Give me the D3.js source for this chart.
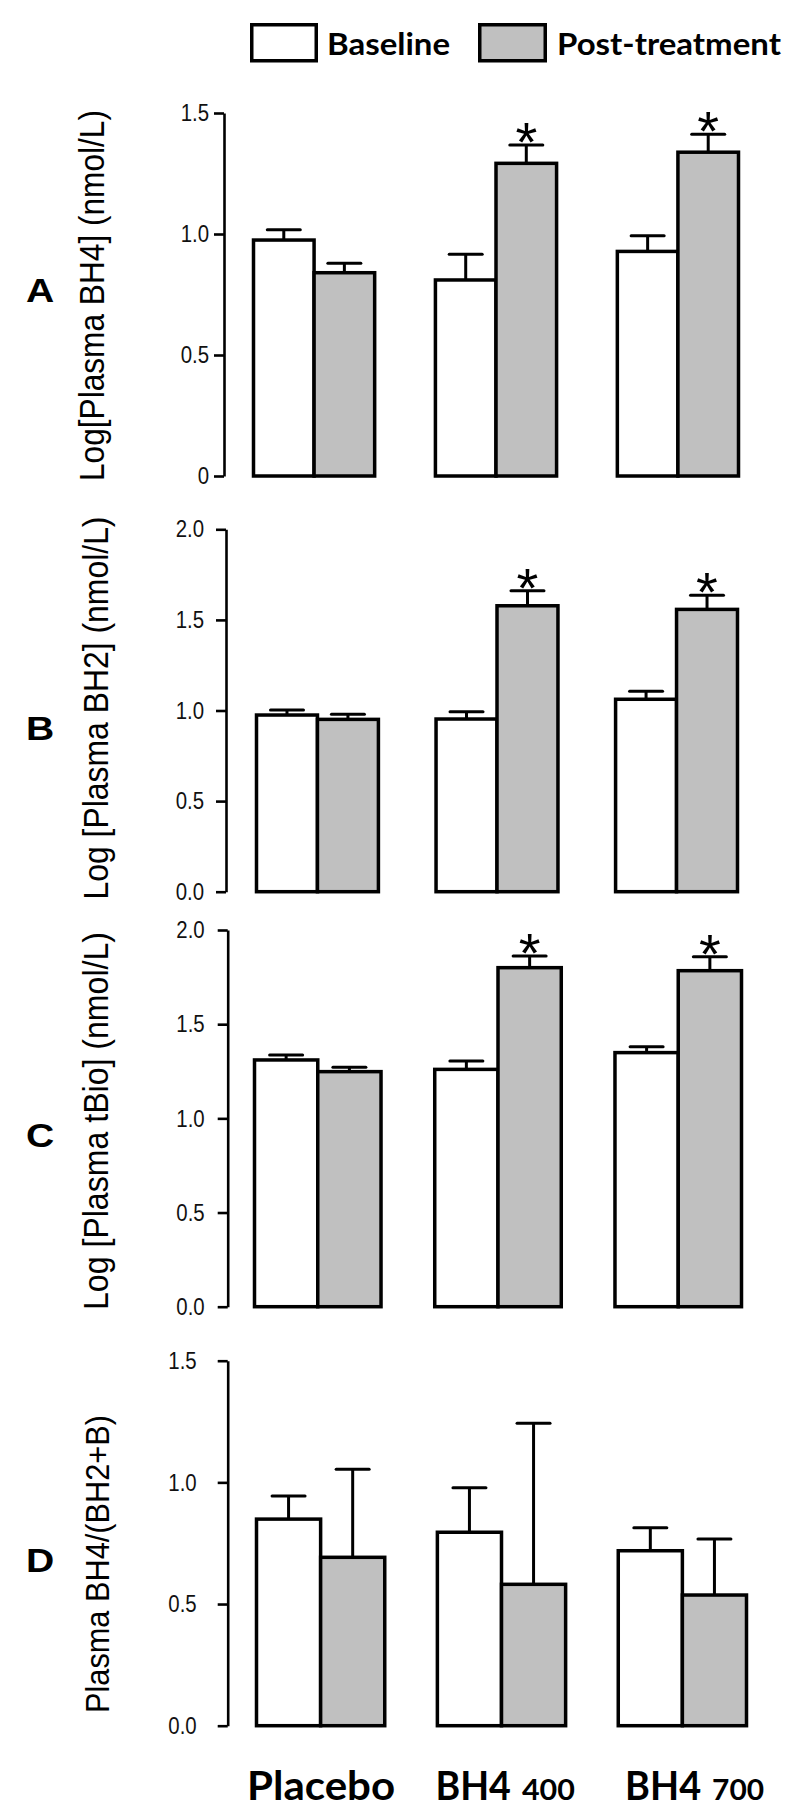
<!DOCTYPE html>
<html><head><meta charset="utf-8">
<script src="https://cdn.jsdelivr.net/npm/d3@7"></script>
<style>body{margin:0;background:#fff}</style>
</head><body>
<script>
// ---------- DATA ----------
const categories = ["Placebo", "BH4 400", "BH4 700"];
const seriesNames = ["Baseline", "Post-treatment"];
const panelLetters = ["A", "B", "C", "D"];
const yAxisTitles = ["Log[Plasma BH4] (nmol/L)", "Log [Plasma BH2] (nmol/L)", "Log [Plasma tBio] (nmol/L)", "Plasma BH4/(BH2+B)"];
const yMaxValues = [1.5, 2.0, 2.0, 1.5];

const ticksA = [0, 0.5, 1.0, 1.5];
const tickLabelsA = ["0", "0.5", "1.0", "1.5"];
const ticksB = [0, 0.5, 1.0, 1.5, 2.0];
const tickLabelsB = ["0.0", "0.5", "1.0", "1.5", "2.0"];
const ticksC = [0, 0.5, 1.0, 1.5, 2.0];
const tickLabelsC = ["0.0", "0.5", "1.0", "1.5", "2.0"];
const ticksD = [0, 0.5, 1.0, 1.5];
const tickLabelsD = ["0.0", "0.5", "1.0", "1.5"];

const baselineA = [0.975, 0.810, 0.928];
const baselineSemA = [0.043, 0.106, 0.065];
const postA = [0.840, 1.292, 1.338];
const postSemA = [0.039, 0.076, 0.074];
const sigA = [false, true, true];

const baselineB = [0.975, 0.953, 1.062];
const baselineSemB = [0.028, 0.040, 0.044];
const postB = [0.951, 1.578, 1.558];
const postSemB = [0.028, 0.083, 0.078];
const sigB = [false, true, true];

const baselineC = [1.310, 1.260, 1.349];
const baselineSemC = [0.027, 0.045, 0.031];
const postC = [1.248, 1.800, 1.784];
const postSemC = [0.023, 0.062, 0.074];
const sigC = [false, true, true];

const baselineD = [0.849, 0.795, 0.719];
const baselineSemD = [0.095, 0.183, 0.095];
const postD = [0.692, 0.581, 0.537];
const postSemD = [0.362, 0.662, 0.230];
const sigD = [false, false, false];

// ---------- LAYOUT ----------
const panels = [
  {ticks: ticksA, labels: tickLabelsA, base: baselineA, baseSem: baselineSemA, post: postA, postSem: postSemA, sig: sigA},
  {ticks: ticksB, labels: tickLabelsB, base: baselineB, baseSem: baselineSemB, post: postB, postSem: postSemB, sig: sigB},
  {ticks: ticksC, labels: tickLabelsC, base: baselineC, baseSem: baselineSemC, post: postC, postSem: postSemC, sig: sigC},
  {ticks: ticksD, labels: tickLabelsD, base: baselineD, baseSem: baselineSemD, post: postD, postSem: postSemD, sig: sigD}
];
const layout = [
  {axisX: 224,   y0: 476,    yTop: 113,    x0: 253.5, x1: 738.5, pad: 0.334, tickPad: 5,  titleX: 104, titleY: 295.5, titleLen: 371, titleSize: 35, letterY: 302},
  {axisX: 226,   y0: 891.7,  yTop: 529.3,  x0: 256.5, x1: 737.5, pad: 0.321, tickPad: 12, titleX: 108, titleY: 708,   titleLen: 383, titleSize: 35, letterY: 740},
  {axisX: 227.7, y0: 1306.7, yTop: 930,    x0: 254.5, x1: 741.5, pad: 0.298, tickPad: 13, titleX: 108, titleY: 1121,  titleLen: 378, titleSize: 35, letterY: 1147},
  {axisX: 227.7, y0: 1725.7, yTop: 1360.7, x0: 256.5, x1: 746.5, pad: 0.291, tickPad: 21, titleX: 109, titleY: 1564,  titleLen: 298, titleSize: 34, letterY: 1572}
];
const fills = {"Baseline": "#ffffff", "Post-treatment": "#c0c0c0"};
const TICK_SX = 0.85;

const svg = d3.select("body").append("svg")
  .attr("width", 800).attr("height", 1817)
  .style("display", "block");

let lastX = null;
panels.forEach((P, pi) => {
  const L = layout[pi];
  const g = svg.append("g");
  const y = d3.scaleLinear().domain([0, yMaxValues[pi]]).range([L.y0, L.yTop]);
  const x = d3.scaleBand().domain(categories).range([L.x0, L.x1]).paddingInner(L.pad).paddingOuter(0);
  const xs = d3.scaleBand().domain(seriesNames).range([0, x.bandwidth()]).padding(0);
  if (pi === panels.length - 1) lastX = x;

  // axis
  const ax = g.append("g")
    .attr("transform", `translate(${L.axisX},0)`)
    .call(d3.axisLeft(y).tickValues(P.ticks).tickFormat((d, i) => P.labels[i])
      .tickSize(10).tickSizeOuter(0).tickPadding(L.tickPad))
    .attr("color", "#000")
    .attr("font-family", "'Liberation Sans', Arial, sans-serif")
    .attr("font-size", 24);
  ax.select(".domain").attr("stroke-width", 2.6);
  ax.selectAll(".tick line").attr("stroke-width", 2.6);
  ax.selectAll(".tick text")
    .attr("x", -(10 + L.tickPad) / TICK_SX)
    .attr("transform", `scale(${TICK_SX},1)`)
    .attr("fill", "#111");

  // bars
  const rows = [];
  categories.forEach((c, i) => {
    rows.push({cat: c, s: "Baseline", v: P.base[i], e: P.baseSem[i], sig: false});
    rows.push({cat: c, s: "Post-treatment", v: P.post[i], e: P.postSem[i], sig: P.sig[i]});
  });
  g.selectAll("rect.bar").data(rows).enter().append("rect")
    .attr("class", "bar")
    .attr("x", d => x(d.cat) + xs(d.s))
    .attr("y", d => y(d.v))
    .attr("width", xs.bandwidth())
    .attr("height", d => y(0) - y(d.v))
    .attr("fill", d => fills[d.s])
    .attr("stroke", "#000")
    .attr("stroke-width", 3.5);

  // error bars (upper only)
  const eb = g.selectAll("g.err").data(rows).enter().append("g").attr("class", "err");
  const cx = d => x(d.cat) + xs(d.s) + xs.bandwidth() / 2;
  eb.append("line")
    .attr("x1", cx).attr("x2", cx)
    .attr("y1", d => y(d.v)).attr("y2", d => y(d.v + d.e))
    .attr("stroke", "#000").attr("stroke-width", 3);
  eb.append("line")
    .attr("x1", d => cx(d) - 16.5).attr("x2", d => cx(d) + 16.5)
    .attr("y1", d => y(d.v + d.e)).attr("y2", d => y(d.v + d.e))
    .attr("stroke", "#000").attr("stroke-width", 3).attr("stroke-linecap", "round");

  // significance asterisks
  g.selectAll("text.sig").data(rows.filter(d => d.sig)).enter().append("text")
    .attr("class", "sig")
    .attr("x", cx)
    .attr("y", d => y(d.v + d.e) - 16 + 0.57 * 56)
    .attr("text-anchor", "middle")
    .attr("font-family", "'Liberation Sans', Arial, sans-serif")
    .attr("font-size", 56)
    .attr("fill", "#000")
    .text("*");

  // y-axis title
  g.append("text")
    .attr("transform", `translate(${L.titleX},${L.titleY}) rotate(-90)`)
    .attr("text-anchor", "middle")
    .attr("font-family", "'Liberation Sans', Arial, sans-serif")
    .attr("font-size", L.titleSize)
    .attr("textLength", L.titleLen)
    .attr("lengthAdjust", "spacingAndGlyphs")
    .attr("fill", "#000")
    .text(yAxisTitles[pi]);

  // panel letter
  g.append("text")
    .attr("transform", `translate(40,${L.letterY}) scale(1.15,1)`)
    .attr("text-anchor", "middle")
    .attr("font-family", "'Liberation Sans', Arial, sans-serif")
    .attr("font-weight", "bold")
    .attr("font-size", 34)
    .attr("fill", "#000")
    .text(panelLetters[pi]);
});

// legend
const legendBoxes = [{x: 251.75, w: 64.5, tx: 327, tlen: 123}, {x: 479.75, w: 65.5, tx: 557, tlen: 224}];
seriesNames.forEach((s, i) => {
  const b = legendBoxes[i];
  svg.append("rect").attr("x", b.x).attr("y", 24.75).attr("width", b.w).attr("height", 36)
    .attr("fill", fills[s]).attr("stroke", "#000").attr("stroke-width", 3.5);
  svg.append("text").attr("x", b.tx).attr("y", 54.5)
    .attr("font-family", "Lato, 'Open Sans', sans-serif").attr("font-weight", "bold")
    .attr("font-size", 31).attr("textLength", b.tlen).attr("lengthAdjust", "spacingAndGlyphs")
    .attr("fill", "#000").text(s);
});

// category labels (bottom)
const catLabelDx = [0.5, 3.7, 12.2];
const catMainLen = [148, 75.4, 76];
const catSubLen = [0, 53, 52];
categories.forEach((c, i) => {
  const parts = c.split(" ");
  const gap = parts.length > 1 ? 11 : 0;
  const total = catMainLen[i] + gap + catSubLen[i];
  const center = lastX(c) + lastX.bandwidth() / 2 + catLabelDx[i];
  const start = center - total / 2;
  svg.append("text").attr("x", start).attr("y", 1800)
    .attr("font-family", "Lato, 'Open Sans', sans-serif").attr("font-weight", "bold")
    .attr("font-size", 40).attr("textLength", catMainLen[i]).attr("lengthAdjust", "spacingAndGlyphs")
    .attr("fill", "#000").text(parts[0]);
  if (parts.length > 1) {
    svg.append("text").attr("x", start + catMainLen[i] + gap).attr("y", 1800)
      .attr("font-family", "Lato, 'Open Sans', sans-serif").attr("font-weight", "bold")
      .attr("font-size", 29).attr("textLength", catSubLen[i]).attr("lengthAdjust", "spacingAndGlyphs")
      .attr("fill", "#000").text(parts[1]);
  }
});
</script>
</body></html>
